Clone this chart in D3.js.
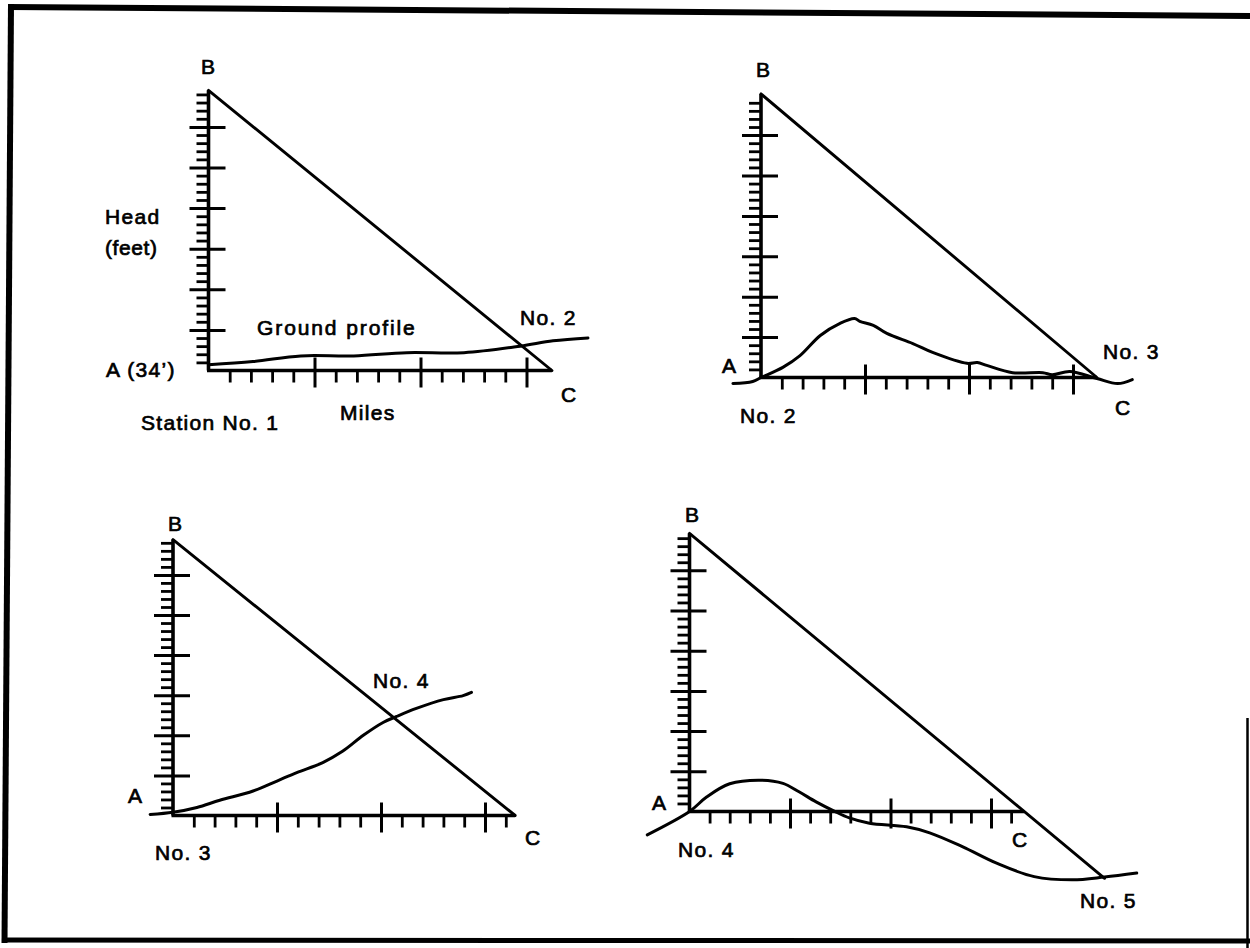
<!DOCTYPE html>
<html>
<head>
<meta charset="utf-8">
<script src="https://cdn.jsdelivr.net/npm/d3@7"></script>
<style>
  body { margin: 0; background: #fff; }
  text { font-family: "Liberation Sans", Arial, Helvetica, sans-serif; font-size: 21px; fill: #000;
         stroke: #000; stroke-width: 0.7px; letter-spacing: 1.3px; }
</style>
</head>
<body>
<script>
// ---------------- DATA ----------------
// Head of point B above A (feet), and distance A->C (miles) for each station pair
const stations = ["Station No. 1", "No. 2", "No. 3", "No. 4"];
const nextStations = ["No. 2", "No. 3", "No. 4", "No. 5"];
const headB = [69, 70.2, 68.8, 69.2];
const distC = [3.24, 3.23, 3.29, 3.33];
// hypotenuse end (miles) — panel 4 continues past C down to No. 5
const hypEndMiles = [3.24, 3.23, 3.29, 4.13];

// ground profiles: [miles, feet relative to A]
const profile1 = [[0,1.4],[0.42,2.2],[0.87,3.6],[1.37,3.6],[1.87,4.4],[2.41,4.4],[2.94,6.0],[3.25,7.3],[3.58,8.0]];
const profile2 = [[-0.27,-1.5],[-0.08,-1.0],[0,0],[0.21,2.5],[0.375,5.4],[0.57,10.4],[0.76,13.4],[0.9,14.6],
  [0.95,13.9],[1.08,12.9],[1.21,10.9],[1.46,8.4],[1.65,6.2],[1.98,3.5],[2.08,3.7],[2.17,3.0],[2.42,1.2],
  [2.71,1.2],[2.8,0.7],[2.97,1.5],[3.23,-0.25],[3.43,-1.5],[3.57,-0.5]];
const profile3 = [[-0.22,0.25],[0,0.8],[0.23,2.0],[0.45,3.8],[0.77,6.1],[1.0,8.6],[1.19,10.7],[1.44,13.2],
  [1.63,16.0],[1.83,20.0],[2.02,23.2],[2.15,24.7],[2.34,26.7],[2.6,28.9],[2.79,29.9],[2.87,30.7]];
const profile4 = [[-0.42,-5.8],[0,0],[0.17,3.6],[0.4,6.9],[0.7,7.8],[0.93,7.0],[1.09,4.9],[1.26,2.4],
  [1.44,0.1],[1.59,-1.6],[1.79,-2.9],[2.16,-3.8],[2.39,-5.3],[2.72,-8.8],[3.05,-12.8],[3.43,-16.2],
  [3.81,-17.0],[4.13,-16.3],[4.45,-15.3]];
const profiles = [profile1, profile2, profile3, profile4];

const headMajorTicks = [10, 20, 30, 40, 50, 60];
const mileMajorTicks = [1, 2, 3];
const headMinorStep = 2;     // feet
const mileMinorStep = 0.2;   // miles

// ---------------- LAYOUT ----------------
// origin (px), px per mile, px per foot
const layout = [
  {x0: 208.5, y0: 370.5, kx: 106,   ky: 4.06},
  {x0: 761, y0: 377.5, kx: 104,   ky: 4.04},
  {x0: 173, y0: 815.5, kx: 104,   ky: 4.01},
  {x0: 689.5, y0: 811.5, kx: 100.5, ky: 4.02}
];

const svg = d3.select("body").append("svg").attr("width", 1250).attr("height", 948);

// frame
const frame = svg.append("g").attr("fill", "none").attr("stroke", "#000");
frame.append("line").attr("x1", 8).attr("y1", 7).attr("x2", 1250).attr("y2", 16).attr("stroke-width", 6);
frame.append("line").attr("x1", 11).attr("y1", 4).attr("x2", 4.5).attr("y2", 943).attr("stroke-width", 6);
frame.append("line").attr("x1", 2).attr("y1", 940).attr("x2", 1250).attr("y2", 941).attr("stroke-width", 5);
frame.append("line").attr("x1", 1247.5).attr("y1", 718).attr("x2", 1247.5).attr("y2", 948).attr("stroke-width", 2.5);

function range(a, b, step) {
  const out = [];
  for (let v = a; v <= b + 1e-9; v += step) out.push(+v.toFixed(4));
  return out;
}

layout.forEach((L, i) => {
  const g = svg.append("g");
  const x = d3.scaleLinear().domain([0, 1]).range([L.x0, L.x0 + L.kx]);
  const y = d3.scaleLinear().domain([0, 1]).range([L.y0, L.y0 - L.ky]);

  // minor y ticks (left side)
  const yMinor = range(headMinorStep, headB[i] - 0.5, headMinorStep).filter(v => !headMajorTicks.includes(v));
  g.append("g").attr("transform", `translate(${L.x0},0)`)
    .call(d3.axisLeft(y).tickValues(yMinor).tickSize(12).tickFormat(""))
    .call(s => s.select(".domain").remove())
    .call(s => s.selectAll("line").attr("stroke", "#000").attr("stroke-width", 2.8));
  // major y ticks (both sides)
  g.append("g").attr("transform", `translate(${L.x0 + 17},0)`)
    .call(d3.axisLeft(y).tickValues(headMajorTicks).tickSize(36).tickFormat(""))
    .call(s => s.select(".domain").remove())
    .call(s => s.selectAll("line").attr("stroke", "#000").attr("stroke-width", 3));

  // minor x ticks (below)
  const xMinor = range(mileMinorStep, distC[i] - 0.05, mileMinorStep).filter(v => !mileMajorTicks.includes(v));
  g.append("g").attr("transform", `translate(0,${L.y0})`)
    .call(d3.axisBottom(x).tickValues(xMinor).tickSize(12).tickFormat(""))
    .call(s => s.select(".domain").remove())
    .call(s => s.selectAll("line").attr("stroke", "#000").attr("stroke-width", 2.8));
  // major x ticks (both sides)
  g.append("g").attr("transform", `translate(0,${L.y0 - 13})`)
    .call(d3.axisBottom(x).tickValues(mileMajorTicks).tickSize(30).tickFormat(""))
    .call(s => s.select(".domain").remove())
    .call(s => s.selectAll("line").attr("stroke", "#000").attr("stroke-width", 3));

  // axes lines
  g.append("line").attr("x1", x(0)).attr("y1", y(0)).attr("x2", x(0)).attr("y2", y(headB[i]))
    .attr("stroke", "#000").attr("stroke-width", 3.6);
  g.append("line").attr("x1", x(0) - 1.5).attr("y1", y(0)).attr("x2", x(distC[i])).attr("y2", y(0))
    .attr("stroke", "#000").attr("stroke-width", 3.6);

  // hypotenuse B -> C (extended in panel 4)
  const slope = -headB[i] / distC[i];
  const endM = hypEndMiles[i];
  g.append("line").attr("x1", x(0)).attr("y1", y(headB[i]))
    .attr("x2", x(endM)).attr("y2", y(headB[i] + slope * endM))
    .attr("stroke", "#000").attr("stroke-width", 2.9).attr("stroke-linecap", "round");

  // ground profile
  const line = d3.line().x(d => x(d[0])).y(d => y(d[1])).curve(d3.curveCatmullRom.alpha(0.5));
  g.append("path").datum(profiles[i]).attr("d", line)
    .attr("fill", "none").attr("stroke", "#000").attr("stroke-width", 3).attr("stroke-linejoin", "round")
    .attr("stroke-linecap", "round");
});

// ---------------- LABELS ----------------
function label(txt, px, py, extraSpacing) {
  const t = svg.append("text").attr("x", px).attr("y", py).text(txt);
  if (extraSpacing) t.style("letter-spacing", extraSpacing + "px");
}
// panel 1
label("B", 201, 74);
label("Head", 105, 224);
label("(feet)", 105, 255, 0.6);
label("A (34’)", 106, 377);
label("Ground profile", 257, 335, 1.9);
label(nextStations[0], 520, 325);
label("C", 561, 402);
label("Miles", 340, 420);
label(stations[0], 141, 430);
// panel 2
label("B", 756, 77);
label("A", 722, 373);
label(nextStations[1], 1103, 359);
label("C", 1115, 415);
label(stations[1], 740, 423);
// panel 3
label("B", 168, 531);
label("A", 128, 803);
label(nextStations[2], 373, 688);
label("C", 525, 845);
label(stations[2], 155, 860);
// panel 4
label("B", 685, 522);
label("A", 652, 810);
label(stations[3], 678, 857);
label("C", 1012, 847);
label(nextStations[3], 1080, 908);
</script>
</body>
</html>
